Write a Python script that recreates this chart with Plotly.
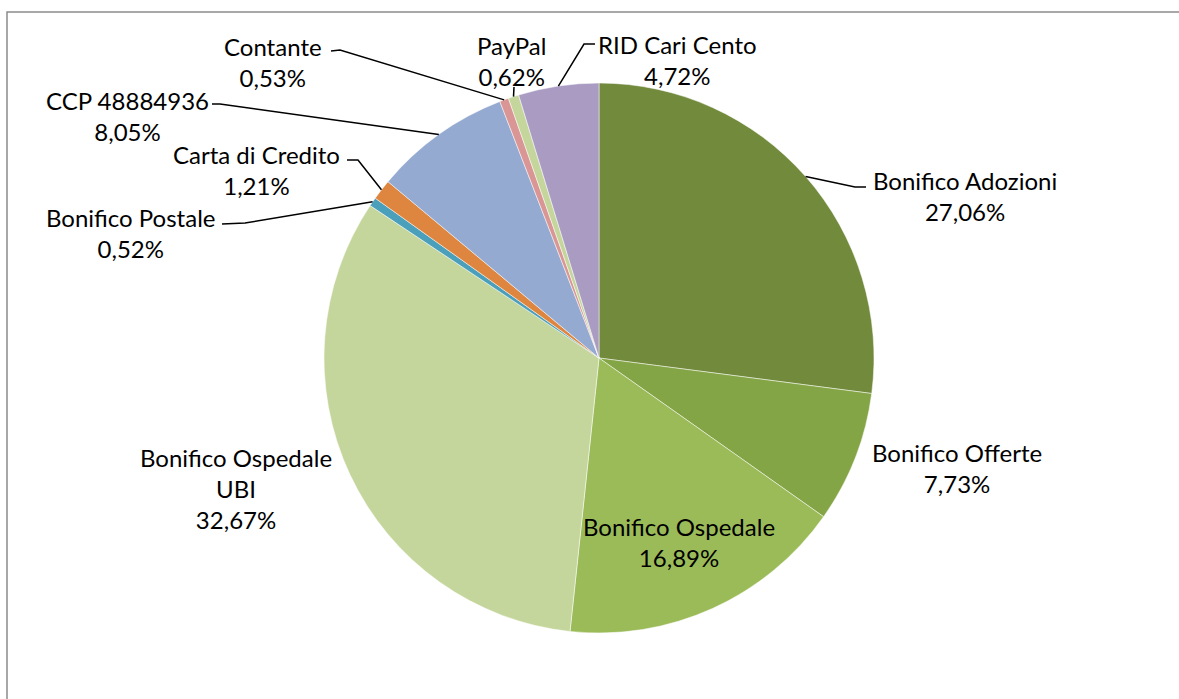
import math
import plotly.graph_objects as go

# ---- data ----
labels = ["Bonifico Adozioni", "Bonifico Offerte", "Bonifico Ospedale",
          "Bonifico Ospedale UBI", "Bonifico Postale", "Carta di Credito",
          "CCP 48884936", "Contante", "PayPal", "RID Cari Cento"]
values = [27.06, 7.73, 16.89, 32.67, 0.52, 1.21, 8.05, 0.53, 0.62, 4.72]
label_text = ["Bonifico Adozioni", "Bonifico Offerte", "Bonifico Ospedale",
              "Bonifico Ospedale<br>UBI", "Bonifico Postale", "Carta di Credito",
              "CCP 48884936", "Contante", "PayPal", "RID Cari Cento"]
colors = ["#718A3B", "#84A545", "#9BBB59", "#C4D69C", "#4A9FBA", "#DE8640",
          "#94AAD1", "#D99694", "#C4D69C", "#AA9BC2"]

# ---- layout (pixels) ----
W, H = 1179, 699
CX, CY, R = 599, 358, 275
# label block centres
label_pos = [(965, 196), (957, 468), (679, 542), (236, 488), (130, 233),
             (256, 170), (127, 116), (273, 62), (511, 61), (677, 60)]
# leader line waypoints (from label towards slice), None = no leader
leader_pts = [[(866, 187), (855, 187)], None, None, None,
              [(222, 224), (245, 223)],
              [(347, 160), (358, 160)],
              [(212, 104), (220, 104)],
              [(331, 51), (340, 50)],
              [(514, 87)],
              [(595, 44), (584, 44)]]


def px(x):
    return x / W


def py(y):
    return 1 - y / H


fig = go.Figure(go.Pie(
    labels=labels, values=values, sort=False, direction="clockwise",
    rotation=0, textinfo="none", hoverinfo="skip",
    marker=dict(colors=colors, line=dict(color="white", width=0.5)),
    domain=dict(x=[px(CX - R), px(CX + R)], y=[py(CY + R), py(CY - R)]),
    showlegend=False,
))

total = sum(values)
cum = 0.0
shapes = []
annotations = []
for i, v in enumerate(values):
    mid = (cum + v / 2) / total * 2 * math.pi
    cum += v
    ex = CX + R * math.sin(mid)
    ey = CY - R * math.cos(mid)
    pts = leader_pts[i]
    if pts:
        allp = pts + [(ex, ey)]
        path = "M " + " L ".join(f"{px(a):.5f},{py(b):.5f}" for a, b in allp)
        shapes.append(dict(type="path", xref="paper", yref="paper", path=path,
                           line=dict(color="#000000", width=1.5)))
    lx, ly = label_pos[i]
    annotations.append(dict(
        x=px(lx), y=py(ly), xref="paper", yref="paper",
        xanchor="center", yanchor="middle", showarrow=False, align="center",
        text=f"{label_text[i]}<br>{v:.2f}%".replace(".", ","),
        font=dict(family="Lato", size=24, color="#000000"),
    ))

# chart frame
shapes.append(dict(type="rect", xref="paper", yref="paper",
                   x0=px(7), y0=-0.05, x1=1.05, y1=py(12),
                   line=dict(color="#8C8C8C", width=1.5)))

fig.update_layout(
    width=W, height=H, margin=dict(l=0, r=0, t=0, b=0),
    paper_bgcolor="white", plot_bgcolor="white",
    shapes=shapes, annotations=annotations,
)

fig.write_html("out.html", config={"displayModeBar": False},
               post_script="document.body.style.margin='0';"
                           "document.body.style.overflow='hidden';")
